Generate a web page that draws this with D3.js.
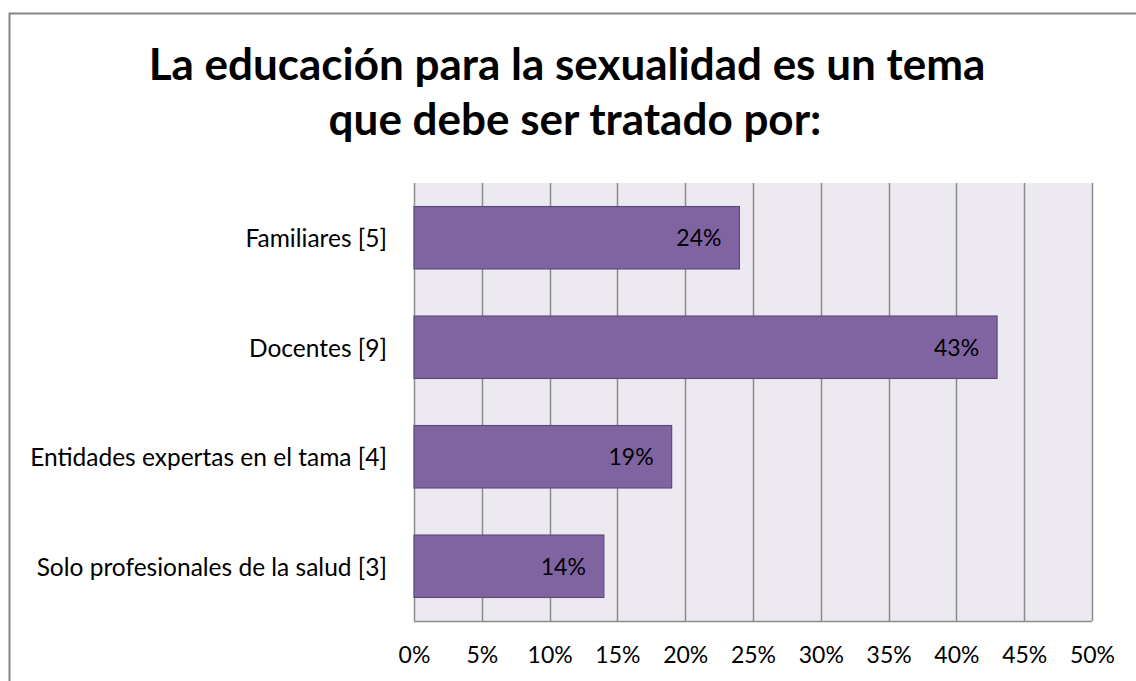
<!DOCTYPE html>
<html>
<head>
<meta charset="utf-8">
<script src="https://cdn.jsdelivr.net/npm/d3@7"></script>
<style>
  body { margin: 0; background: #fff; }
  svg { display: block; font-family: Lato, "Open Sans", sans-serif; }
</style>
</head>
<body>
<div id="chart"></div>
<script>
var categories = ["Familiares [5]", "Docentes [9]", "Entidades expertas en el tama [4]", "Solo profesionales de la salud [3]"];
var values = [0.24, 0.43, 0.19, 0.14];
var xTicks = [0, 0.05, 0.10, 0.15, 0.20, 0.25, 0.30, 0.35, 0.40, 0.45, 0.50];
var titleLines = ["La educación para la sexualidad es un tema", "que debe ser tratado por:"];

var data = categories.map(function(c, i){ return {name: c, value: values[i]}; });

var W = 1136, H = 681;
var svg = d3.select("#chart").append("svg")
    .attr("width", W)
    .attr("height", H);

// outer chart frame (cut off at right/bottom like the picture)
svg.append("rect")
    .attr("x", 9.5).attr("y", 13.5)
    .attr("width", W + 20).attr("height", H + 20)
    .attr("fill", "#fff")
    .attr("stroke", "#868686")
    .attr("stroke-width", 2);

// title, two centred lines
var titleX = [567, 575];
svg.selectAll(".title")
    .data(titleLines)
    .enter().append("text")
    .attr("class", "title")
    .attr("x", function(d, i){ return titleX[i]; })
    .attr("y", function(d, i){ return 80 + i * 55; })
    .attr("text-anchor", "middle")
    .attr("font-size", "44px")
    .attr("font-weight", "bold")
    .attr("fill", "#000")
    .text(function(d){ return d; });

var margin = {left: 414, top: 183, right: 1092, bottom: 621};

var x = d3.scaleLinear()
    .domain([0, 0.5])
    .range([margin.left, margin.right]);

var y = d3.scaleBand()
    .domain(categories)
    .range([margin.top, margin.bottom])
    .paddingInner(0.43)
    .paddingOuter(0.215);

var g = svg.append("g");

g.append("rect")
    .attr("x", margin.left).attr("y", margin.top)
    .attr("width", margin.right - margin.left)
    .attr("height", margin.bottom - margin.top)
    .attr("fill", "#ECEAF0");

g.selectAll(".grid")
    .data(xTicks)
    .enter().append("line")
    .attr("class", "grid")
    .attr("x1", function(d){ return Math.round(x(d)) + 0.5; })
    .attr("x2", function(d){ return Math.round(x(d)) + 0.5; })
    .attr("y1", margin.top)
    .attr("y2", margin.bottom)
    .attr("stroke", "#8c8c8c")
    .attr("stroke-width", 1.5);

g.append("line")
    .attr("x1", margin.left).attr("x2", margin.right)
    .attr("y1", margin.bottom + 0.5).attr("y2", margin.bottom + 0.5)
    .attr("stroke", "#8c8c8c")
    .attr("stroke-width", 1.5);

g.selectAll(".bar")
    .data(data)
    .enter().append("rect")
    .attr("class", "bar")
    .attr("x", x(0))
    .attr("y", function(d){ return y(d.name); })
    .attr("width", function(d){ return x(d.value) - x(0); })
    .attr("height", y.bandwidth())
    .attr("fill", "#8064A2")
    .attr("stroke", "#5F4A7E")
    .attr("stroke-width", 1.2);

g.selectAll(".val")
    .data(data)
    .enter().append("text")
    .attr("class", "val")
    .attr("x", function(d){ return x(d.value) - 18; })
    .attr("y", function(d){ return y(d.name) + y.bandwidth() / 2; })
    .attr("dy", "0.38em")
    .attr("text-anchor", "end")
    .attr("font-size", "23px")
    .attr("fill", "#000")
    .text(function(d){ return Math.round(d.value * 100) + "%"; });

var yAxis = d3.axisLeft(y).tickSize(0).tickPadding(27);
var ya = svg.append("g")
    .attr("transform", "translate(" + margin.left + ",0)")
    .call(yAxis);
ya.select(".domain").remove();
ya.selectAll("text")
    .attr("font-family", "Lato, sans-serif")
    .attr("font-size", "24.5px")
    .attr("dy", "0.38em")
    .attr("fill", "#000");

var xAxis = d3.axisBottom(x).tickValues(xTicks).tickSize(0).tickPadding(26)
    .tickFormat(d3.format(".0%"));
var xa = svg.append("g")
    .attr("transform", "translate(0," + margin.bottom + ")")
    .call(xAxis);
xa.select(".domain").remove();
xa.selectAll("text")
    .attr("font-family", "Lato, sans-serif")
    .attr("font-size", "23px")
    .attr("fill", "#000");
</script>
</body>
</html>
